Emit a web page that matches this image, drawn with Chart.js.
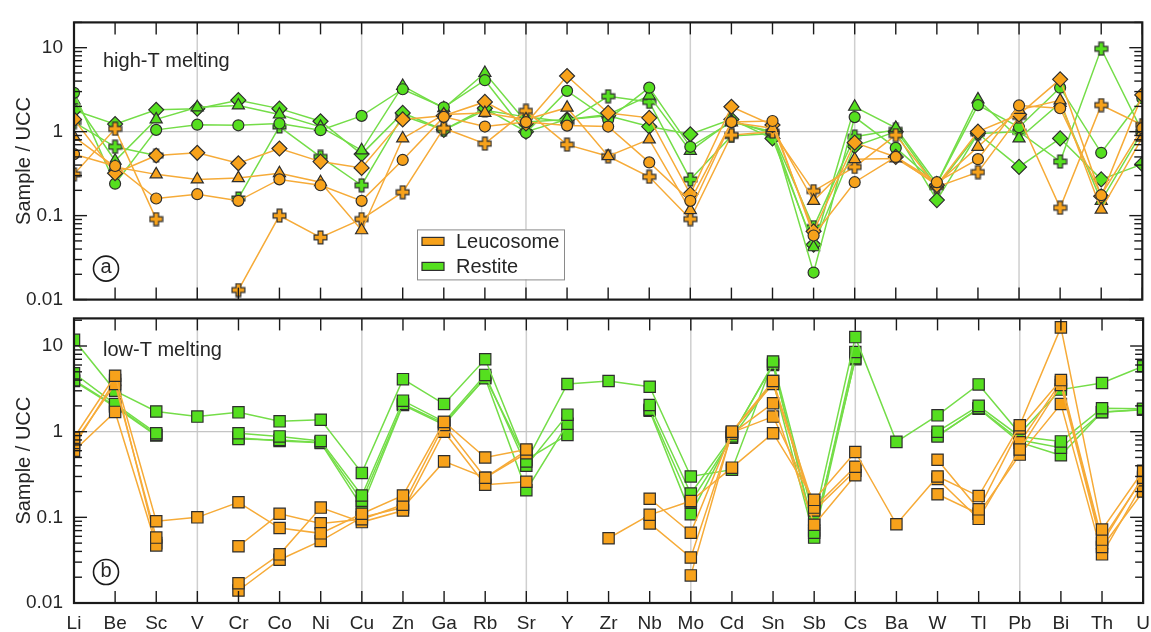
<!DOCTYPE html>
<html>
<head>
<meta charset="utf-8">
<script src="https://cdn.jsdelivr.net/npm/chart.js@4.4.0/dist/chart.umd.min.js"></script>
<style>
  html, body { margin: 0; padding: 0; background: #fff; }
  #wrap { position: relative; width: 1151px; height: 632px; overflow: hidden; }
  #chartA { position: absolute; left: 0; top: 0; }
  #chartB { position: absolute; left: 0; top: 296px; }
</style>
</head>
<body>
<div id="wrap">
  <canvas id="chartA" width="1151" height="322"></canvas>
  <canvas id="chartB" width="1159" height="336"></canvas>
</div>
<script>
const ELEMENTS = ['Li', 'Be', 'Sc', 'V', 'Cr', 'Co', 'Ni', 'Cu', 'Zn', 'Ga', 'Rb', 'Sr', 'Y', 'Zr',
  'Nb', 'Mo', 'Cd', 'Sn', 'Sb', 'Cs', 'Ba', 'W', 'Tl', 'Pb', 'Bi', 'Th', 'U'];
const GRID_ELEMENTS = ['V', 'Cu', 'Sr', 'Mo', 'Cs', 'Pb'];

// (a) high-T melting, one leucosome/restite pair per marker shape
const HT_LEU_CIRCLE   = [0.54, 0.39, 0.16, 0.18, 0.15, 0.27, 0.23, 0.15, 0.46, 1.5, 1.15, 1.3, 1.18, 1.15, 0.43, 0.15, 1.3, 1.34, 0.058, 0.25, 0.5, 0.25, 0.47, 2.05, 1.9, 0.175, 1.1];
const HT_LEU_TRIANGLE = [0.87, 0.38, 0.31, 0.27, 0.28, 0.32, 0.25, 0.067, 0.83, 1.6, 1.67, 1.4, 1.93, 0.51, 0.81, 0.116, 1.29, 1.1, 0.15, 0.47, 0.48, 0.24, 0.66, 1.82, 2.36, 0.118, 0.85];
const HT_LEU_DIAMOND  = [1.4, 0.32, 0.52, 0.56, 0.42, 0.63, 0.44, 0.37, 1.4, 1.55, 2.26, 1.25, 4.6, 1.67, 1.46, 0.18, 1.98, 1.2, 0.065, 0.74, 0.5, 0.23, 1.0, 1.6, 4.2, 0.17, 2.74];
const HT_LEU_CROSS    = [0.31, 1.08, 0.091, null, 0.013, 0.1, 0.055, 0.091, 0.19, 1.1, 0.72, 1.77, 0.7, 0.51, 0.29, 0.091, 0.91, 1.0, 0.196, 0.38, 0.91, 0.22, 0.33, 1.5, 0.124, 2.07, 1.2];
const HT_RES_CIRCLE   = [2.9, 0.24, 1.05, 1.21, 1.19, 1.25, 1.04, 1.54, 3.2, 1.95, 4.1, 0.97, 3.06, 1.4, 3.34, 0.66, 1.3, 1.0, 0.021, 1.49, 0.64, 0.24, 2.07, 1.13, 3.34, 0.56, 2.5];
const HT_RES_TRIANGLE = [2.36, 0.45, 1.4, 1.95, 2.05, 1.6, 1.14, 0.6, 3.5, 1.9, 5.0, 1.3, 1.4, 1.6, 2.69, 0.59, 1.35, 0.95, 0.042, 1.98, 1.11, 0.24, 2.42, 0.83, 2.2, 0.15, 1.0];
const HT_RES_DIAMOND  = [1.8, 1.23, 1.82, 1.88, 2.37, 1.88, 1.33, 0.54, 1.67, 1.05, 1.9, 1.0, 1.4, 1.55, 1.15, 0.93, 1.4, 0.83, 0.045, 0.67, 1.0, 0.153, 0.95, 0.38, 0.83, 0.27, 0.41];
const HT_RES_CROSS    = [1.3, 0.66, 0.52, null, 0.16, 1.15, 0.5, 0.23, 1.55, 1.05, 1.8, 1.5, 1.3, 2.64, 2.26, 0.27, 0.89, 0.95, 0.073, 0.87, 1.05, 0.22, 0.95, 1.0, 0.44, 9.7, 1.0];

// (b) low-T melting, square markers
const LT_LEU_1 = [0.85, 4.5, 0.09, 0.1, 0.15, 0.075, 0.065, 0.11, 0.18, 1.3, 0.5, 0.62, null, 0.057, 0.107, 0.155, 0.38, 0.96, 0.16, 0.58, 0.083, 0.3, 0.177, 1.19, 16.5, 0.072, 0.35];
const LT_LEU_2 = [0.74, 3.6, 0.058, null, 0.046, 0.11, 0.085, 0.095, 0.14, 1.2, 0.29, 0.56, null, null, 0.165, 0.066, 1.0, 3.9, 0.13, 0.39, null, 0.47, 0.124, 1.09, 4.0, 0.055, 0.29];
const LT_LEU_3 = [0.6, 1.7, 0.047, null, 0.017, 0.037, 0.13, 0.088, 0.12, 1.0, 0.24, 0.26, null, null, 0.085, 0.034, 0.95, 2.15, 0.082, 0.31, null, 0.28, 0.096, 0.62, 3.5, 0.045, 0.2];
const LT_LEU_4 = [0.68, 4.0, 0.05, null, 0.014, 0.032, 0.053, 0.1, 0.13, 0.45, 0.29, 0.6, null, null, null, 0.021, 1.0, 3.6, 0.12, 0.35, null, 0.186, 0.11, 0.54, 2.1, 0.037, 0.25];
const LT_LEU_5 = [null, null, null, null, null, null, null, null, null, null, null, null, null, null, null, null, 0.98, 1.5, 0.15, null, null, null, null, 0.75, 3.8, 0.05, 0.3];
const LT_RES_1 = [11.8, 3.0, 1.72, 1.5, 1.68, 1.32, 1.38, 0.33, 4.1, 2.1, 7.0, 0.45, 3.6, 3.9, 3.35, 0.3, 0.36, 6.6, 0.094, 12.7, 0.76, 1.55, 3.56, 0.95, 3.1, 3.7, 5.8];
const LT_RES_2 = [4.8, 2.1, 0.96, null, 0.96, 0.88, 0.78, 0.18, 2.3, 1.3, 4.6, 0.4, 1.58, null, 2.05, 0.19, 0.88, 6.2, 0.066, 8.5, null, 1.0, 2.0, 0.88, 0.77, 1.88, 1.85];
const LT_RES_3 = [4.0, 2.0, 0.92, null, 0.82, 0.8, 0.75, 0.156, 2.1, 1.25, 4.2, 0.207, 1.24, null, 1.8, 0.15, 0.85, 3.9, 0.058, 7.2, null, 0.88, 1.88, 0.8, 0.65, 1.69, 1.8];
const LT_RES_4 = [3.9, 1.95, 0.9, null, 0.85, 0.78, 0.74, 0.133, 2.05, 1.2, 4.3, 0.47, 0.916, null, 1.75, 0.109, 0.9, 6.0, 0.07, 7.0, null, 0.9, 1.85, 0.75, 0.53, 1.7, 1.82];

const ORANGE = '#f7a21b';
const GREEN = '#55df1f';
const ORANGE_LINE = '#f6ab38';
const GREEN_LINE = '#74dd48';
const EDGE = '#2e2e2e';
const FONT = "'Liberation Sans', Arial, sans-serif";
const TEXT = '#262626';

let plusImage = (fill) => {
  let c = document.createElement('canvas');
  c.width = 15; c.height = 15;
  let g = c.getContext('2d');
  let a = 2.4, b = 6.4;
  g.translate(7.5, 7.5);
  g.beginPath();
  g.moveTo(-a, -b); g.lineTo(a, -b); g.lineTo(a, -a); g.lineTo(b, -a);
  g.lineTo(b, a); g.lineTo(a, a); g.lineTo(a, b); g.lineTo(-a, b);
  g.lineTo(-a, a); g.lineTo(-b, a); g.lineTo(-b, -a); g.lineTo(-a, -a);
  g.closePath();
  g.fillStyle = fill; g.fill();
  g.lineWidth = 1.2; g.strokeStyle = EDGE; g.stroke();
  return c;
};
const PLUS_ORANGE = plusImage(ORANGE);
const PLUS_GREEN = plusImage(GREEN);

let series = (data, leuco, style, radius) => ({
  data: data,
  borderColor: leuco ? ORANGE_LINE : GREEN_LINE,
  borderWidth: 1.5,
  backgroundColor: leuco ? ORANGE : GREEN,
  pointBackgroundColor: leuco ? ORANGE : GREEN,
  pointBorderColor: EDGE,
  pointBorderWidth: 1.2,
  pointStyle: style,
  pointRadius: radius,
  tension: 0,
  spanGaps: false,
  clip: 0
});

let isDecade = (v) => {
  let l = Math.log10(v);
  return Math.abs(l - Math.round(l)) < 1e-6;
};

let line = (ctx, x1, y1, x2, y2) => {
  ctx.beginPath(); ctx.moveTo(x1, y1); ctx.lineTo(x2, y2); ctx.stroke();
};

const decor = {
  id: 'decor',
  beforeDraw(chart, args, opts) {
    if (opts.whiteBelow) {
      let ctx = chart.ctx;
      ctx.save();
      ctx.fillStyle = '#fff';
      ctx.fillRect(0, chart.chartArea.top - 1, chart.width, chart.height);
      ctx.restore();
    }
  },
  beforeDatasetsDraw(chart) {
    let {ctx, chartArea: a, scales: {x, y}} = chart;
    ctx.save();
    ctx.strokeStyle = '#cfcfcf';
    ctx.lineWidth = 1.5;
    GRID_ELEMENTS.forEach((el) => {
      let px = x.getPixelForValue(ELEMENTS.indexOf(el));
      line(ctx, px, a.top, px, a.bottom);
    });
    ctx.strokeStyle = '#c4c4c4';
    ctx.lineWidth = 1.2;
    let p1 = y.getPixelForValue(1);
    line(ctx, a.left, p1, a.right, p1);
    ctx.restore();
  },
  afterDraw(chart, args, opts) {
    let {ctx, chartArea: a, scales: {x, y}} = chart;
    ctx.save();
    ctx.strokeStyle = '#1a1a1a';
    ctx.lineWidth = 1.4;
    ELEMENTS.forEach((el, i) => {
      let px = x.getPixelForValue(i);
      line(ctx, px, a.top, px, a.top + 12);
      line(ctx, px, a.bottom, px, a.bottom - 12);
    });
    for (let d = 0.01; d < 100; d *= 10) {
      for (let m = 1; m < 10; m++) {
        let v = d * m;
        if (v < y.min * 0.999 || v > y.max) continue;
        let py = y.getPixelForValue(v);
        let len = m === 1 ? 13 : 8;
        line(ctx, a.left, py, a.left + len, py);
        line(ctx, a.right, py, a.right - len, py);
      }
    }
    ctx.lineWidth = 2.2;
    ctx.strokeRect(a.left, a.top, a.right - a.left, a.bottom - a.top);

    ctx.fillStyle = TEXT;
    ctx.font = '20px ' + FONT;
    ctx.textAlign = 'left';
    ctx.textBaseline = 'alphabetic';
    ctx.fillText(opts.title, a.left + 29, a.top + opts.titleOffset);

    let cx = a.left + 32, cy = a.bottom - 31;
    ctx.lineWidth = 1.6;
    ctx.beginPath(); ctx.arc(cx, cy, 12.5, 0, Math.PI * 2); ctx.stroke();
    ctx.textAlign = 'center';
    ctx.textBaseline = 'middle';
    ctx.fillText(opts.letter, cx, cy - 1);

    if (opts.legend) {
      let lx = a.left + 343, ly = a.top + 207;
      ctx.fillStyle = '#fff';
      ctx.fillRect(lx, ly, 147, 50);
      ctx.strokeStyle = '#8a8a8a';
      ctx.lineWidth = 1;
      ctx.strokeRect(lx + 0.5, ly + 0.5, 147, 50);
      [['Leucosome', ORANGE], ['Restite', GREEN]].forEach(([label, color], i) => {
        let ry = ly + 12 + i * 25;
        ctx.fillStyle = color;
        ctx.fillRect(lx + 5, ry - 4, 22, 8);
        ctx.strokeStyle = EDGE;
        ctx.lineWidth = 1.2;
        ctx.strokeRect(lx + 5, ry - 4, 22, 8);
        ctx.fillStyle = TEXT;
        ctx.textAlign = 'left';
        ctx.textBaseline = 'middle';
        ctx.fillText(label, lx + 39, ry + 1);
      });
    }
    ctx.restore();
  }
};

let makeOptions = (maxY, showX, decorOpts, padding) => ({
  responsive: false,
  animation: false,
  layout: {padding: padding},
  plugins: {legend: {display: false}, tooltip: {enabled: false}, decor: decorOpts},
  scales: {
    x: {
      type: 'category',
      offset: false,
      grid: {display: false, drawTicks: false},
      border: {display: false},
      ticks: {
        display: showX, autoSkip: false, maxRotation: 0, padding: 9,
        color: TEXT, font: {family: FONT, size: 19}
      },
      afterFit: (scale) => { scale.height = showX ? 29 : 0; }
    },
    y: {
      type: 'logarithmic',
      min: 0.01,
      max: maxY,
      grid: {display: false, drawTicks: false},
      border: {display: false},
      ticks: {
        autoSkip: false, padding: 11, color: TEXT, font: {family: FONT, size: 19},
        callback: (v) => {
          if (!isDecade(v)) return '';
          return v >= 1 ? String(Math.round(v)) : v.toFixed(-Math.round(Math.log10(v)));
        }
      },
      afterFit: (scale) => { scale.width = 74; },
      title: {
        display: true, text: 'Sample / UCC', color: TEXT,
        font: {family: FONT, size: 20}, padding: {top: 12, bottom: 0}
      }
    }
  }
});

new Chart(document.getElementById('chartA'), {
  type: 'line',
  data: {
    labels: ELEMENTS,
    datasets: [
      series(HT_LEU_CIRCLE, true, 'circle', 5.5),
      series(HT_LEU_TRIANGLE, true, 'triangle', 7),
      series(HT_LEU_DIAMOND, true, 'rectRot', 7.5),
      series(HT_LEU_CROSS, true, PLUS_ORANGE, 6),
      series(HT_RES_CIRCLE, false, 'circle', 5.5),
      series(HT_RES_TRIANGLE, false, 'triangle', 7),
      series(HT_RES_DIAMOND, false, 'rectRot', 7.5),
      series(HT_RES_CROSS, false, PLUS_GREEN, 6)
    ]
  },
  options: makeOptions(20, false,
    {title: 'high-T melting', titleOffset: 45, letter: 'a', legend: true},
    {left: 0, right: 8, top: 14, bottom: 17}),
  plugins: [decor]
});

// the last tick label needs half its width plus padding on the right,
// so this canvas runs a little past the page edge to keep both frames aligned
new Chart(document.getElementById('chartB'), {
  type: 'line',
  data: {
    labels: ELEMENTS,
    datasets: [
      series(LT_LEU_1, true, 'rect', 8),
      series(LT_LEU_2, true, 'rect', 8),
      series(LT_LEU_3, true, 'rect', 8),
      series(LT_LEU_4, true, 'rect', 8),
      series(LT_LEU_5, true, 'rect', 8),
      series(LT_RES_1, false, 'rect', 8),
      series(LT_RES_2, false, 'rect', 8),
      series(LT_RES_3, false, 'rect', 8),
      series(LT_RES_4, false, 'rect', 8)
    ]
  },
  options: makeOptions(21, true,
    {title: 'low-T melting', titleOffset: 38, letter: 'b', legend: false, whiteBelow: true},
    {left: 0, right: 0, top: 15, bottom: 0}),
  plugins: [decor]
});
</script>
</body>
</html>
